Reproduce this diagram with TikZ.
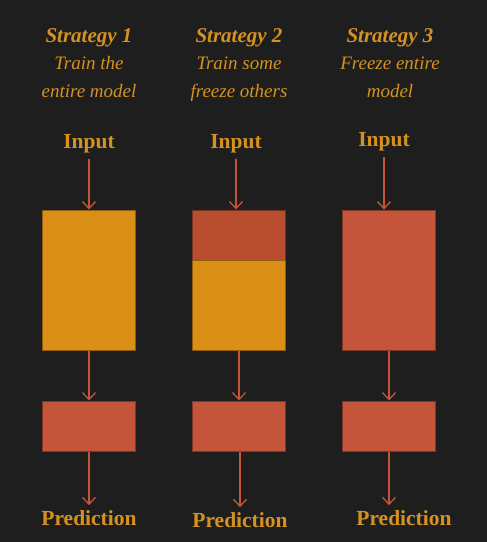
\documentclass[tikz,border=0pt]{standalone}
\usepackage{fontspec}
\setmainfont{Liberation Serif}
\usetikzlibrary{arrows.meta}
\definecolor{bg}{HTML}{1E1E1E}
\definecolor{gold}{HTML}{D6921E}
\definecolor{trainfill}{HTML}{DA9016}
\definecolor{freezefill}{HTML}{C5553A}
\definecolor{frozentop}{HTML}{B94D30}
\definecolor{arrowcol}{HTML}{C4553A}

\begin{document}
\begin{tikzpicture}[x=1pt, y=-1pt,
	every node/.style={text=gold, inner sep=0pt},
	every edge/.style={draw=arrowcol, line width=1.3pt, -{Straight Barb[length=7pt, width=13pt, line width=1.3pt]}},
	title/.style={anchor=north, align=center, font=\itshape\fontsize{19}{27.5}\selectfont},
	label/.style={font=\bfseries\fontsize{21.5}{23}\selectfont, inner sep=5pt},
	block/.style={rectangle, fill=#1, draw=#1!65!black, line width=1pt, minimum width=93pt},
	trainbox/.style={block=trainfill, minimum height=140pt},
	freezebox/.style={block=freezefill, minimum height=140pt},
	headbox/.style={block=freezefill, minimum height=50pt}]
			\fill[bg] (0,0) rectangle (487,542);
			
			% strategy 1
			\node[title] (t1) at (89,28){{\bfseries\fontsize{21}{21}\selectfont Strategy 1}\\Train the\\entire model};
			\node[label] (in1) at (89,144){Input};
			\node[trainbox] (m1) at (89,280){};
			\node[headbox] (s1) at (89,426){};
			\node[label] (p1) at (89,518){Prediction};
			
			\path (in1) edge (m1);
			\path (m1) edge (s1);
			\path (s1) edge (p1);
			
			% strategy 2
			\node[title] (t2) at (239,28){{\bfseries\fontsize{21}{21}\selectfont Strategy 2}\\Train some\\freeze others};
			\node[label] (in2) at (236,144){Input};
			\node[block=frozentop, minimum height=50pt] (m2a) at (239,235){};
			\node[block=trainfill, minimum height=90pt] (m2b) at (239,305){};
			\node[headbox] (s2) at (239,426){};
			\node[label] (p2) at (240,520){Prediction};
			
			\path (in2) edge (in2 |- m2a.north);
			\path (m2b.south -| s2) edge (s2);
			\path (s2.south -| p2) edge (p2);
			
			% strategy 3
			\node[title] (t3) at (390,28){{\bfseries\fontsize{21}{21}\selectfont Strategy 3}\\Freeze entire\\model};
			\node[label] (in3) at (384,142){Input};
			\node[freezebox] (m3) at (389,280){};
			\node[headbox] (s3) at (389,426){};
			\node[label] (p3) at (404,518){Prediction};
			
			\path (in3) edge (in3 |- m3.north);
			\path (m3) edge (s3);
			\path (s3) edge (s3 |- p3.north);
\end{tikzpicture}
\end{document}
